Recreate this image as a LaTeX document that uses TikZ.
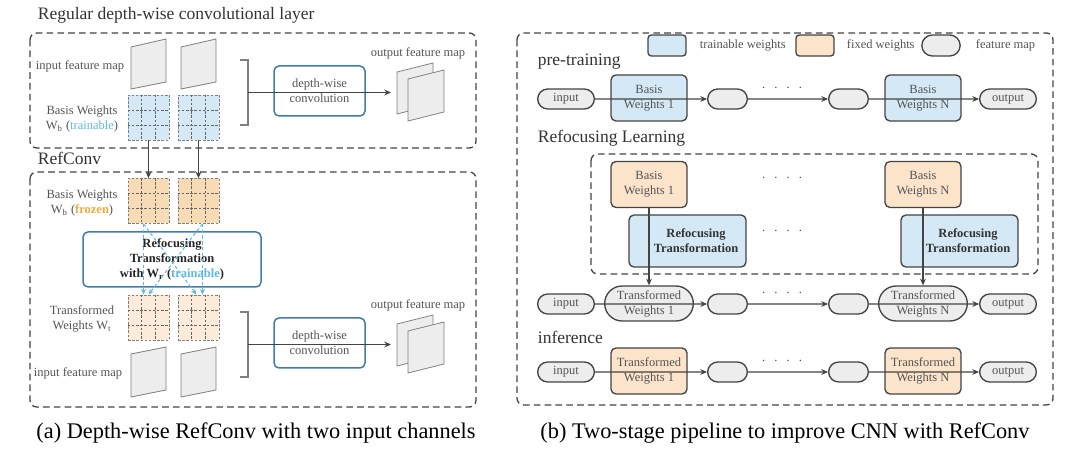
\documentclass[tikz,border=0pt]{standalone}
\usepackage{fontspec}
\setmainfont{Liberation Serif}
\usetikzlibrary{arrows.meta,calc,shapes.misc}

\definecolor{convblue}{HTML}{3E7CB1}
\definecolor{trainfill}{HTML}{D4E9F5}
\definecolor{frozenfill}{HTML}{F7DBB5}
\definecolor{transfill}{HTML}{FCEBD8}
\definecolor{fixedfill}{HTML}{FBE4CA}
\definecolor{traintext}{HTML}{5CB8E6}
\definecolor{frozentext}{HTML}{F2A93B}
\definecolor{mapfill}{HTML}{EDEDED}
\definecolor{linegrey}{HTML}{444444}
\definecolor{textgrey}{HTML}{555555}

\begin{document}
\begin{tikzpicture}[x=0.6pt, y=-0.6pt, font=\fontsize{7.5}{9}\selectfont,
    region/.style={draw=linegrey, dash pattern=on 4pt off 2.5pt, rounded corners=4pt, line width=0.8pt},
    heading/.style={anchor=west, text=black!80, font=\fontsize{10.5}{12}\selectfont},
    caption/.style={text=black, font=\fontsize{13.4}{15}\selectfont},
    label/.style={text=textgrey, align=center},
    convbox/.style={draw=convblue, rounded corners=3pt, line width=0.9pt, fill=white, text=textgrey,
        align=center, minimum width=54.6pt, minimum height=30pt},
    wgrid/.style={draw=gray, dash pattern=on 1.5pt off 1pt, inner sep=0pt, minimum width=24.6pt, minimum height=27pt},
    cellline/.style={draw=gray!80!black, dash pattern=on 1.5pt off 1pt, line width=0.4pt},
    fmap/.style={draw=gray, fill=mapfill, line width=0.5pt},
    flow/.style={draw=linegrey, line width=0.8pt, -{Stealth[length=4pt,width=3.5pt]}},
    refarrow/.style={draw=traintext, dash pattern=on 2pt off 1.5pt, line width=0.6pt, -{Stealth[length=3.5pt,width=3pt]}},
    pill/.style={rounded rectangle, draw=linegrey, fill=mapfill, line width=0.8pt, text=textgrey,
        minimum height=12pt, minimum width=36pt, inner sep=1pt},
    wbox/.style={draw=linegrey, rounded corners=3pt, line width=0.8pt, text=textgrey, align=center,
        minimum width=45.6pt, minimum height=27.6pt, inner sep=1pt},
    boldlabel/.style={text=black!80, align=center, font=\fontsize{7.5}{9}\selectfont\bfseries},
    dots/.style={text=linegrey}]
\useasboundingbox (0,0) rectangle (1080,450);

% (a) depth-wise RefConv
\node[heading] (hreg) at (32,15) {Regular depth-wise convolutional layer};
\draw[region] (30,33) rectangle (476,148);
\node[heading] (href) at (32,158) {RefConv};
\draw[region] (30,172) rectangle (476,407);

\foreach \dx in {0,50} {
    \filldraw[fmap] (131+\dx,47) -- (166+\dx,39) -- (166+\dx,82) -- (131+\dx,89) -- cycle;
    \filldraw[fmap] (131+\dx,354) -- (166+\dx,347) -- (166+\dx,390) -- (131+\dx,397) -- cycle;
}
\node[label, anchor=east] (lin1) at (130,66) {input feature map};
\node[label, anchor=east] (lin2) at (128,373) {input feature map};

\node[wgrid, fill=trainfill] (b1) at (148.5,117.5) {};
\node[wgrid, fill=trainfill] (b2) at (198.5,117.5) {};
\node[wgrid, fill=frozenfill] (f1) at (148.5,201) {};
\node[wgrid, fill=frozenfill] (f2) at (198.5,201) {};
\node[wgrid, fill=transfill] (t1) at (148.5,317.5) {};
\node[wgrid, fill=transfill] (t2) at (198.5,317.5) {};
\foreach \g in {b1,b2,f1,f2,t1,t2}
    \foreach \k in {1,2}
        \draw[cellline] ($(\g.north west)!\k/3!(\g.north east)$) -- ($(\g.south west)!\k/3!(\g.south east)$)
            ($(\g.north west)!\k/3!(\g.south west)$) -- ($(\g.north east)!\k/3!(\g.south east)$);

\node[label] (lbw) at (82,119) {Basis Weights\\W\textsubscript{b} (\textcolor{traintext}{trainable})};
\node[label] (lbf) at (82,203) {Basis Weights\\W\textsubscript{b} (\textcolor{frozentext}{\bfseries frozen})};
\node[label] (ltw) at (82,319) {Transformed\\Weights W\textsubscript{t}};

\draw[flow] (b1.south) -- (f1.north);
\draw[flow] (b2.south) -- (f2.north);

\node[convbox, minimum width=106.8pt, minimum height=33pt, text=black!85, font=\fontsize{7.5}{9}\selectfont\bfseries]
    (rtr) at (172,259.5) {Refocusing\\Transformation\\with W\textsubscript{r} (\textcolor{traintext}{trainable})};
\draw[refarrow] ($(f1.south)+(-5,0)$) -- ($(t1.north)+(-5,0)$);
\draw[refarrow] ($(f1.south)+(-5,0)$) -- ($(t2.north)+(-2,0)$);
\draw[refarrow] ($(f2.south)+(4,0)$) -- ($(t2.north)+(4,0)$);
\draw[refarrow] ($(f2.south)+(4,0)$) -- ($(t1.north)+(0,0)$);

\foreach \dy/\n in {0/1,252/2} {
    \draw[gray, line width=0.9pt] (240,60+\dy) -- (248,60+\dy) -- (248,125+\dy) -- (240,125+\dy);
    \coordinate (br\n) at (248,92.5+\dy);
    \coordinate (om\n) at (391,92.5+\dy);
    \node[convbox] (dw\n) at (319.5,91+\dy) {depth-wise\\convolution};
    \draw[flow] (br\n) -- (om\n);
    \filldraw[fmap] (397,72+\dy) -- (433,63+\dy) -- (433,105+\dy) -- (397,114+\dy) -- cycle;
    \filldraw[fmap] (408,79+\dy) -- (444,70+\dy) -- (444,112+\dy) -- (408,121+\dy) -- cycle;
    \node[label] (lout\n) at (418,53+\dy) {output feature map};
}

% (b) two-stage pipeline
\draw[region] (517,33) rectangle (1053,405);
\node[wbox, fill=trainfill, minimum width=22.8pt, minimum height=12.6pt, rounded corners=2pt] (kt) at (667,45.5) {};
\node[label, anchor=west] (ktl) at (694,45.5) {trainable weights};
\node[wbox, fill=fixedfill, minimum width=22.8pt, minimum height=12.6pt, rounded corners=2pt] (kf) at (815,45.5) {};
\node[label, anchor=west] (kfl) at (841,45.5) {fixed weights};
\node[pill, minimum width=25pt, minimum height=12.6pt] (km) at (941,45.5) {};
\node[label, anchor=west] (kml) at (970,45.5) {feature map};

\node[heading] (hpre) at (532,62) {pre-training};
\node[heading] (hrl) at (532,138) {Refocusing Learning};
\node[heading] (hinf) at (532,337) {inference};

% pre-training
\node[pill] (in1) at (566,99) {input};
\node[wbox, fill=trainfill] (bw1) at (649,98) {Basis\\Weights 1};
\node[pill, minimum width=25.8pt] (m1) at (727.5,99) {};
\node[pill, minimum width=25.8pt] (m2) at (848.5,99) {};
\node[wbox, fill=trainfill] (bwN) at (923,98) {Basis\\Weights N};
\node[pill] (out1) at (1008,99) {output};
\node[dots] (d1) at (782,88) {.\hspace{5.5pt}.\hspace{5.5pt}.\hspace{5.5pt}.};
\draw[flow] (in1) -- (m1);
\draw[flow] (m1) -- (m2);
\draw[flow] (m2) -- (out1);

% refocusing learning
\draw[region] (591,154) rectangle (1038,274);
\node[wbox, fill=fixedfill] (fb1) at (649,184.5) {Basis\\Weights 1};
\node[wbox, fill=fixedfill] (fbN) at (923,184.5) {Basis\\Weights N};
\node[wbox, fill=trainfill, minimum width=70.2pt, minimum height=31.2pt] (rt1) at (687.5,241) {};
\node[boldlabel] (rt1l) at (696,241) {Refocusing\\Transformation};
\node[wbox, fill=trainfill, minimum width=70.2pt, minimum height=31.2pt] (rtN) at (959.5,241) {};
\node[boldlabel] (rtNl) at (968,241) {Refocusing\\Transformation};
\node[dots] (d2) at (782,178) {.\hspace{5.5pt}.\hspace{5.5pt}.\hspace{5.5pt}.};
\node[dots] (d3) at (782,231) {.\hspace{5.5pt}.\hspace{5.5pt}.\hspace{5.5pt}.};

\node[pill] (in2) at (566,304) {input};
\node[pill, minimum width=55.2pt, minimum height=21pt, align=center] (tw1) at (649,303.5) {Transformed\\Weights 1};
\node[pill, minimum width=25.8pt] (m3) at (727.5,304) {};
\node[pill, minimum width=25.8pt] (m4) at (848.5,304) {};
\node[pill, minimum width=55.2pt, minimum height=21pt, align=center] (twN) at (923,303.5) {Transformed\\Weights N};
\node[pill] (out2) at (1008,304) {output};
\node[dots] (d4) at (782,293) {.\hspace{5.5pt}.\hspace{5.5pt}.\hspace{5.5pt}.};
\draw[flow] (fb1.south) -- (tw1.north);
\draw[flow] (fbN.south) -- (twN.north);
\draw[flow] (in2) -- (m3);
\draw[flow] (m3) -- (m4);
\draw[flow] (m4) -- (out2);

% inference
\node[pill] (in3) at (566,372) {input};
\node[wbox, fill=fixedfill] (tb1) at (649,371) {Transformed\\Weights 1};
\node[pill, minimum width=25.8pt] (m5) at (727.5,372) {};
\node[pill, minimum width=25.8pt] (m6) at (848.5,372) {};
\node[wbox, fill=fixedfill] (tbN) at (923,371) {Transformed\\Weights N};
\node[pill] (out3) at (1008,372) {output};
\node[dots] (d5) at (782,361) {.\hspace{5.5pt}.\hspace{5.5pt}.\hspace{5.5pt}.};
\draw[flow] (in3) -- (m5);
\draw[flow] (m5) -- (m6);
\draw[flow] (m6) -- (out3);

\node[caption] (capa) at (256,433) {(a) Depth-wise RefConv with two input channels};
\node[caption] (capb) at (785,433) {(b) Two-stage pipeline to improve CNN with RefConv};
\end{tikzpicture}
\end{document}
